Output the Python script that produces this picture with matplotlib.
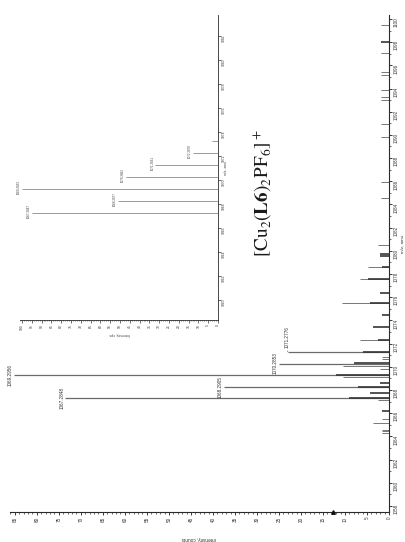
import matplotlib
matplotlib.use("Agg")
import matplotlib.pyplot as plt
from matplotlib.ticker import MultipleLocator, FixedLocator

plt.rcParams["font.family"] = ["Liberation Sans", "DejaVu Sans"]
plt.rcParams["mathtext.fontset"] = "stix"

W, H, DPI = 405, 542, 100

# ---- measured ESI spectrum: profile sticks (m/z, intensity) ----
spec_mz = [1064.28, 1064.45, 1064.57, 1065.15, 1065.49, 1067.10, 1069.16,
           1069.80, 1070.10, 1070.66, 1070.84, 1072.30, 1075.50, 1077.60,
           1078.60, 1080.50, 1084.60, 1085.90, 1089.80, 1090.90, 1093.00,
           1093.30, 1093.90, 1095.20, 1095.40, 1097.10, 1099.50]
spec_int = [1.7, 1.7, 1.7, 3.7, 1.7, 2.5, 10.5,
            2.0, 10.5, 1.5, 1.5, 6.6, 10.7, 6.6,
            4.7, 2.5, 1.8, 1.8, 1.8, 1.8, 1.8,
            1.8, 1.8, 1.8, 1.8, 1.8, 1.8]

# ---- centroid trace drawn over the profile ----
cent_mz = [1066.15, 1067.28, 1067.73, 1068.29, 1068.60, 1069.30, 1070.29,
           1071.28, 1072.30, 1073.40, 1074.50, 1075.50, 1076.40, 1077.60,
           1078.60, 1079.55, 1079.70, 1098.00]
cent_int = [1.7, 9.0, 4.3, 7.0, 2.0, 12.0, 8.0,
            6.0, 2.5, 3.6, 1.6, 4.3, 2.1, 4.8,
            1.5, 2.0, 2.0, 1.8]

# ---- annotated isotope peaks ----
label_mz = [1067.2848, 1068.2905, 1069.2956, 1070.2853, 1071.2776]
label_int = [73.6, 37.5, 85.2, 25.0, 23.0]

# ---- simulated isotope pattern (inset) ----
sim_mz = [1067.2847, 1068.2877, 1069.2833, 1070.2862, 1071.2831, 1072.2870, 1073.2850]
sim_int = [95, 51, 100, 47, 32, 13, 3]
sim_n_labelled = 6

main_xticks = list(range(0, 90, 5))
main_yticks = list(range(1058, 1101, 2))
inset_xticks = list(range(0, 101, 5))
inset_yticks = list(range(1060, 1083, 2))

threshold = 12.7

AX_COL = "#2a2a2a"
STICK = "#777777"
DARK = "#363636"


def frac(x0, y0, x1, y1):
    """pixel box (left, top, right, bottom) -> figure fraction rect"""
    return [x0 / W, 1 - y1 / H, (x1 - x0) / W, (y1 - y0) / H]


def style_axes(ax, fs, tl, lw):
    for side in ("left", "top"):
        ax.spines[side].set_visible(False)
    for side in ("right", "bottom"):
        ax.spines[side].set_color(AX_COL)
        ax.spines[side].set_linewidth(lw)
    ax.yaxis.tick_right()
    ax.yaxis.set_label_position("right")
    ax.tick_params(axis="both", which="major", labelsize=fs, length=tl,
                   width=lw * 0.8, color=AX_COL, labelcolor="#333333",
                   labelrotation=90, pad=1.2)
    ax.tick_params(axis="both", which="minor", length=tl * 0.5,
                   width=lw * 0.6, color=AX_COL)
    ax.patch.set_alpha(0)


fig = plt.figure(figsize=(W / DPI, H / DPI), dpi=DPI)
fig.patch.set_facecolor("white")

# ---------------- main spectrum ----------------
ax = fig.add_axes(frac(10, 15, 389, 512))
ax.set_xlim(86.1, 0)
ax.set_ylim(1057.48, 1100.34)
style_axes(ax, 3.3, 2.2, 0.8)
ax.xaxis.set_major_locator(FixedLocator(main_xticks))
ax.xaxis.set_minor_locator(MultipleLocator(1))
ax.yaxis.set_major_locator(FixedLocator(main_yticks))
ax.yaxis.set_minor_locator(MultipleLocator(1))

ax.hlines(spec_mz, 0, spec_int, colors=STICK, lw=0.7)
ax.hlines(label_mz, 0, label_int, colors="#6a6a6a", lw=0.9)
ax.hlines(cent_mz, 0, cent_int, colors=DARK, lw=1.2)

for mz, inten in zip(label_mz[:-1], label_int[:-1]):
    ax.annotate(f"{mz:.4f}", xy=(inten, mz), xytext=(-0.6, 0),
                textcoords="offset points", rotation=90, ha="right",
                va="center", fontsize=3.3, color="#333333")
ax.annotate(f"{label_mz[-1]:.4f}", xy=(label_int[-1], label_mz[-1]),
            xytext=(-0.2, 3.0), textcoords="offset points", rotation=90,
            ha="center", va="bottom", fontsize=3.3, color="#333333",
            arrowprops=dict(arrowstyle="-", lw=0.4, color="#555555",
                            shrinkA=0, shrinkB=0))

ax.plot([threshold], [1057.48], marker="^", ms=2.6, color="#111111",
        clip_on=False, zorder=5)

fig.text(199 / W, 1 - 538 / H, "Intensity, counts", rotation=180,
         ha="center", va="center", fontsize=3.4, color="#333333")
fig.text(402.5 / W, 1 - 244 / H, "m/z, amu", rotation=90,
         ha="center", va="center", fontsize=3.2, color="#333333")

# ---------------- simulated isotope pattern inset ----------------
ins = fig.add_axes(frac(20, 15, 218, 320))
ins.set_xlim(101, 0)
ins.set_ylim(1058.33, 1083.75)
style_axes(ins, 2.4, 1.8, 0.6)
ins.xaxis.set_major_locator(FixedLocator(inset_xticks))
ins.xaxis.set_minor_locator(MultipleLocator(1))
ins.yaxis.set_major_locator(FixedLocator(inset_yticks))

ins.hlines(sim_mz, 0, sim_int, colors="#8a8a8a", lw=0.6)
for mz, inten in zip(sim_mz[:sim_n_labelled], sim_int[:sim_n_labelled]):
    ins.annotate(f"{mz:.4f}", xy=(inten, mz), xytext=(-0.6, 0.8),
                 textcoords="offset points", rotation=90, ha="right",
                 va="center", fontsize=2.2, color="#444444")

fig.text(120 / W, 1 - 334 / H, "Intensity, cps", rotation=180,
         ha="center", va="center", fontsize=2.5, color="#444444")
fig.text(226 / W, 1 - 168 / H, "m/z, amu", rotation=90,
         ha="center", va="center", fontsize=2.4, color="#444444")

# ---------------- ion assignment ----------------
fig.text(263 / W, 1 - 193 / H,
         r"$[\mathrm{Cu}_2(\mathbf{L6})_2\mathrm{PF}_6]^+$",
         rotation=90, ha="center", va="center", fontsize=13.8, color="#1a1a1a")

fig.savefig("out.png", dpi=DPI, facecolor="white")
